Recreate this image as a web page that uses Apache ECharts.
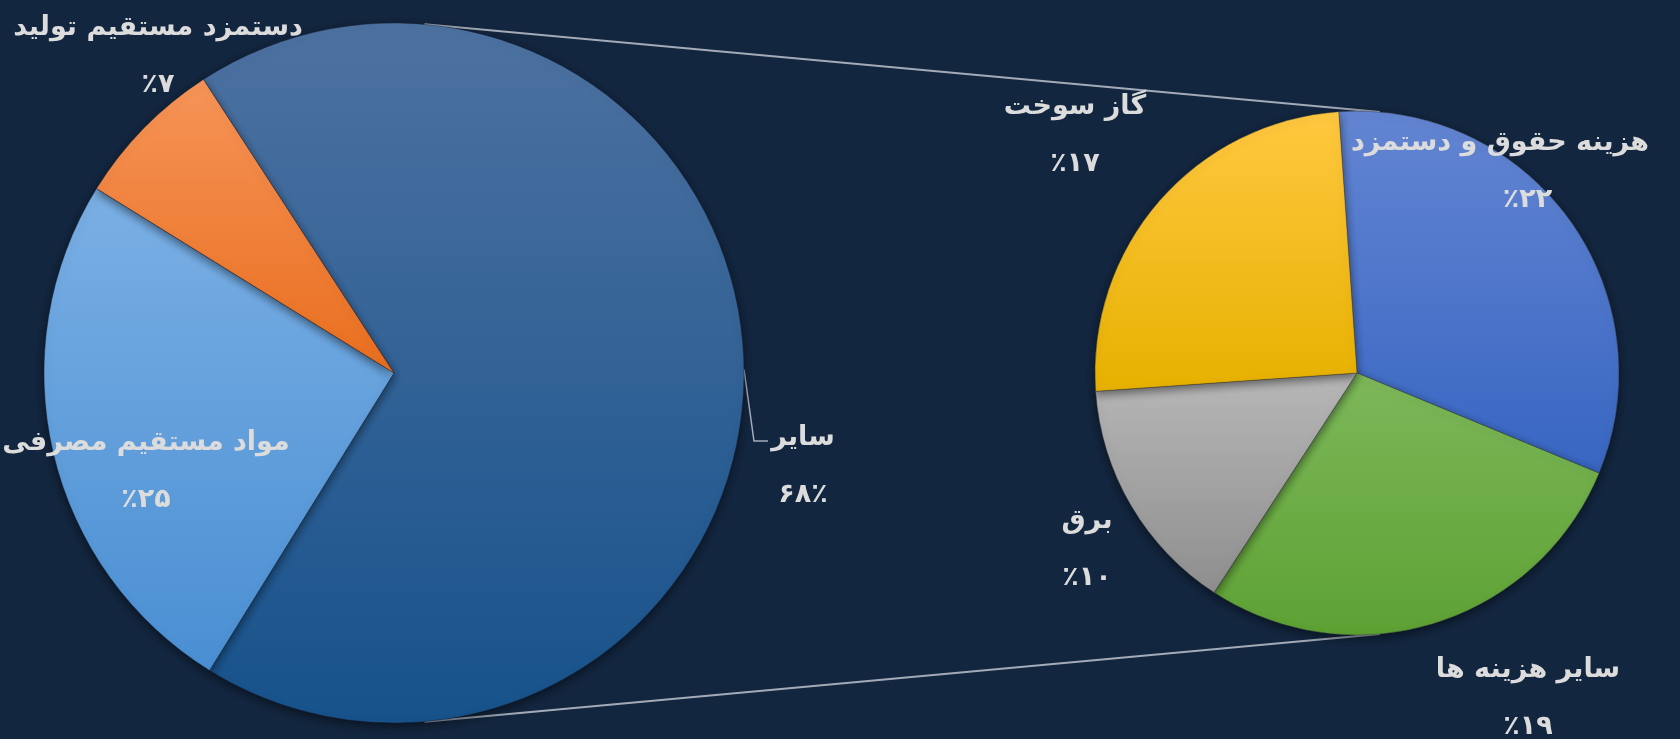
<!DOCTYPE html>
<html><head><meta charset="utf-8">
<script src="https://cdn.jsdelivr.net/npm/echarts@6/dist/echarts.min.js"></script>
<style>html,body{margin:0;padding:0;background:#13263f;}#c{width:1680px;height:739px;}</style>
</head><body><div id="c"></div>
<script>
// ---- data ----
const mainNames = ['سایر', 'مواد مستقیم مصرفی', 'دستمزد مستقیم تولید'];
const mainValues = [68, 25, 7];
const mainPctLabels = ['۶۸٪', '٪۲۵', '٪۷'];
const subNames = ['هزینه حقوق و دستمزد', 'سایر هزینه ها', 'برق', 'گاز سوخت'];
const subValues = [22, 19, 10, 17];
const subPctLabels = ['٪۲۲', '٪۱۹', '٪۱۰', '٪۱۷'];

// ---- styles / layout ----
const mainColors = [['#4d72a1', '#17528b'], ['#7aafe4', '#4a8fd3'], ['#f69458', '#e96e1e']];
const subColors = [['#6385d2', '#3866c2'], ['#7db85a', '#5da133'], ['#b7b7b7', '#8e8e8e'], ['#ffc840', '#e7b100']];
const L = {c: [394, 373], r: 350, start: 123};
const R = {c: [1357, 373], r: 262, start: 94};
const mainLabelPos = [[803, 466], [146, 471], [158, 56]];
const subLabelPos = [[1500, 171], [1528, 698], [1087, 549], [1075, 135]];
const labelColor = '#dcdcdc';
const font = "'DejaVu Sans', sans-serif";

function grad(c) {
  return {type: 'linear', x: 0, y: 0, x2: 0, y2: 1, colorStops: [{offset: 0, color: c[0]}, {offset: 1, color: c[1]}]};
}
const textBase = {fontFamily: font, fontWeight: 'bold', fontSize: 27, color: labelColor, lineHeight: 57};
function mk(names, values, pcts, colors, pExtra) {
  return names.map((n, i) => ({
    name: n, value: values[i],
    itemStyle: {color: grad(colors[i])},
    label: {
      formatter: '{n|' + n + '}\n{p|' + pcts[i] + '}',
      rich: {n: textBase, p: Object.assign({}, textBase, (pExtra && pExtra[i]) || {})}
    }
  }));
}
function pt(g, degFromTopCW) {
  const a = degFromTopCW * Math.PI / 180;
  return [g.c[0] + g.r * Math.sin(a), g.c[1] - g.r * Math.cos(a)];
}
const connAngles = [5, 175];
const lines = connAngles.map(a => {
  const p1 = pt(L, a), p2 = pt(R, a);
  return {type: 'line', z: 0, shape: {x1: p1[0], y1: p1[1], x2: p2[0], y2: p2[1]},
    style: {stroke: '#a3aab8', lineWidth: 2}};
});

const chart = echarts.init(document.getElementById('c'), null, {renderer: 'canvas'});
const mainData = mk(mainNames, mainValues, mainPctLabels, mainColors);
const subData = mk(subNames, subValues, subPctLabels, subColors, [{padding: [0, 0, 0, 55]}]);

const labelCommon = {show: true, position: 'outside', align: 'center', overflow: 'none', edgeDistance: 0, bleedMargin: 0};

chart.setOption({
  backgroundColor: '#13263f',
  animation: false,
  graphic: lines,
  series: [
    {
      type: 'pie', center: L.c, radius: L.r, startAngle: L.start, clockwise: true,
      avoidLabelOverlap: false,
      data: mainData,
      itemStyle: {borderColor: 'rgba(20,30,50,0.5)', borderWidth: 0.8, shadowBlur: 10, shadowColor: 'rgba(0,0,0,0.5)', shadowOffsetY: 3},
      label: labelCommon,
      labelLine: {show: true, lineStyle: {color: '#a3aab8', width: 1.5}},
      labelLayout: function (p) {
        const pos = mainLabelPos[p.dataIndex];
        const o = {x: pos[0], y: pos[1], align: 'center', verticalAlign: 'middle', hideOverlap: false};
        if (p.dataIndex === 0) {
          const s = pt(L, 89.4);
          o.labelLinePoints = [s, [s[0] + 10, pos[1] - 25], [s[0] + 24, pos[1] - 25]];
        } else {
          o.labelLinePoints = [[0, 0], [0, 0], [0, 0]];
        }
        return o;
      }
    },
    {
      type: 'pie', center: R.c, radius: R.r, startAngle: R.start, clockwise: true,
      avoidLabelOverlap: false,
      data: subData,
      itemStyle: {borderColor: 'rgba(60,60,60,0.5)', borderWidth: 0.8, shadowBlur: 10, shadowColor: 'rgba(0,0,0,0.5)', shadowOffsetY: 3},
      label: labelCommon,
      labelLine: {show: false},
      labelLayout: function (p) {
        const pos = subLabelPos[p.dataIndex];
        return {x: pos[0], y: pos[1], align: 'center', verticalAlign: 'middle', hideOverlap: false};
      }
    }
  ]
});
</script></body></html>
